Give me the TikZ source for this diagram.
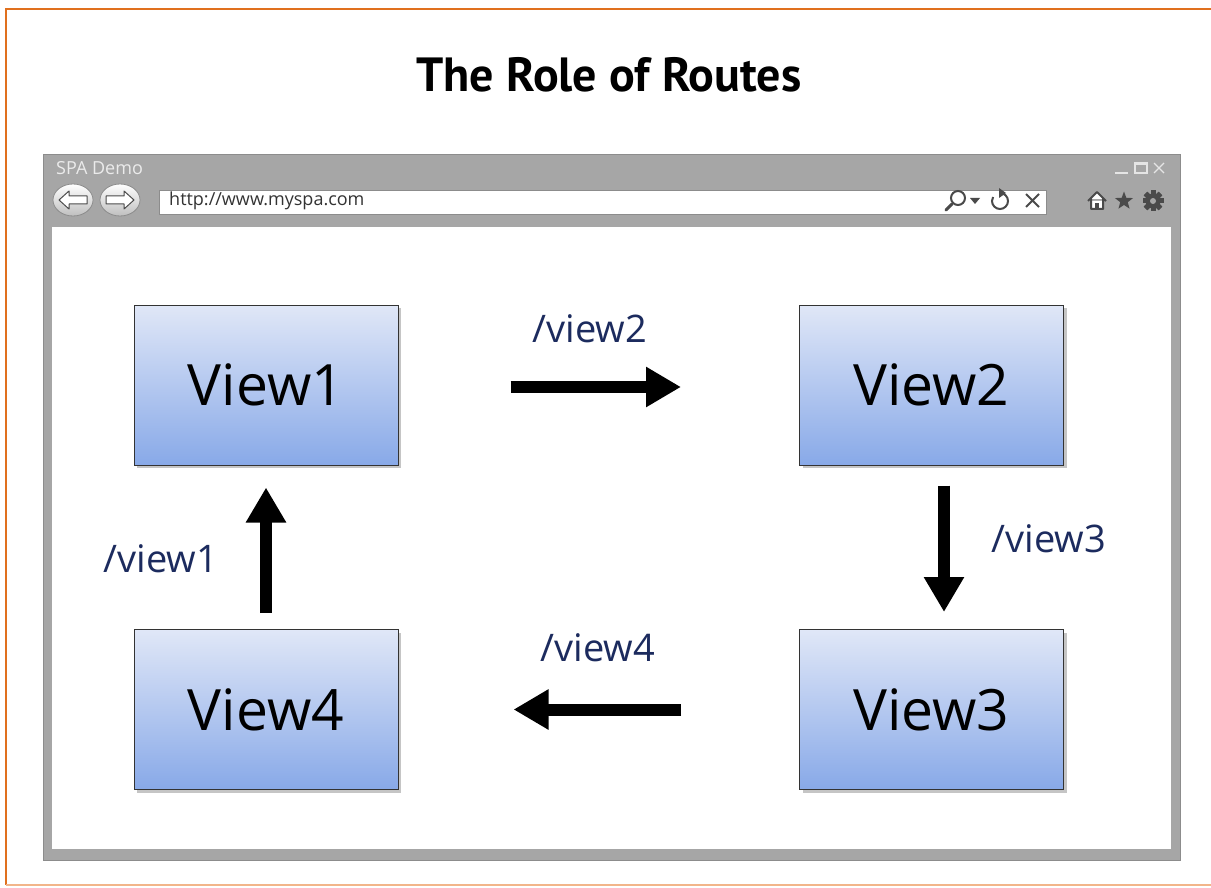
\documentclass[tikz,border=0pt]{standalone}
\usepackage{fontspec}
\setmainfont{Open Sans}
\newfontfamily\titlefont{PT Sans}
\usetikzlibrary{arrows.meta,shadows,shapes.geometric}
\definecolor{framebar}{HTML}{E0701E}
\definecolor{framelow}{HTML}{F2B58A}
\definecolor{chrome}{HTML}{A6A6A6}
\definecolor{chromeline}{HTML}{8C8C8C}
\definecolor{viewtop}{HTML}{E0E7F7}
\definecolor{viewbot}{HTML}{88A9E8}
\definecolor{routeblue}{HTML}{1C2B5E}
\definecolor{icongray}{HTML}{4A4A4A}
\tikzset{
  viewbox/.style={draw=black!80, line width=1pt, top color=viewtop, bottom color=viewbot,
    minimum width=264pt, minimum height=160pt, inner sep=0pt,
    font=\fontsize{57}{60}\selectfont,
    drop shadow={shadow xshift=3pt, shadow yshift=-3pt, opacity=0.45}},
  route/.style={line width=12pt, -{Triangle[length=35pt,width=38pt]}},
  routelabel/.style={text=routeblue, font=\fontsize{38}{42}\selectfont, inner sep=0pt},
  navbtn/.style={draw=chromeline, line width=0.8pt, top color=white, bottom color=black!25},
  navarrow/.style={draw=icongray, fill=white, line width=1pt, line join=round},
}
\begin{document}
\begin{tikzpicture}[x=1pt,y=-1pt]
  \useasboundingbox[fill=white] (0,0) rectangle (1211,888);

  % Frame
  \draw[framebar, line width=2pt] (1211,9) -- (6,9) -- (6,885);
  \draw[framelow, line width=2pt] (6,885) -- (1211,885);

  % Title
  \node[font=\titlefont\bfseries\fontsize{48}{52}\selectfont] (title) at (609,75) {The Role of Routes};

  % Browser window
  \draw[chromeline, fill=chrome, line width=1pt] (43,155) rectangle (1180,860);
  \draw[black!35, fill=white, line width=1pt] (51,226) rectangle (1171,849);
  \node[anchor=west, text=white!92!black, font=\fontsize{18}{20}\selectfont, inner sep=0pt] (apptitle) at (56,168) {SPA Demo};

  % Window controls
  \draw[white!90!black, line width=2pt] (1115,173) -- (1128,173);
  \draw[white!90!black, line width=1.5pt] (1135,163) rectangle (1147,173);
  \draw[white!90!black, line width=1.5pt] (1135,164.5) -- (1147,164.5);
  \draw[white!90!black, line width=1.2pt] (1154,163) -- (1164,173) (1154,173) -- (1164,163);

  % Back / forward
  \draw[navbtn] (73,200) ellipse (20pt and 16pt);
  \draw[navbtn] (120,200) ellipse (20pt and 16pt);
  \draw[navarrow] (59,200) -- (69,191) -- (69,196) -- (87,196) -- (87,204) -- (69,204) -- (69,209) -- cycle;
  \draw[navarrow] (134,200) -- (124,191) -- (124,196) -- (106,196) -- (106,204) -- (124,204) -- (124,209) -- cycle;

  % Address bar
  \draw[chromeline, fill=white, line width=0.8pt] (159,190) rectangle (1046,214);
  \node[anchor=west, text=black!80, font=\fontsize{18}{20}\selectfont, inner sep=0pt] (url) at (169,201) {http://www.myspa.com};

  % Search, refresh, stop
  \draw[icongray, line width=2pt] (958,198) circle (7pt);
  \draw[icongray, line width=3pt, line cap=round] (952,204) -- (946,210);
  \fill[icongray] (970,198) -- (980,198) -- (975,204) -- cycle;
  \draw[icongray, line width=2pt] (1000,193) arc (-90:210:8pt and -8pt);
  \fill[icongray] (999,188) -- (1006,193) -- (999,198) -- cycle;
  \draw[icongray, line width=2pt] (1026,194) -- (1039,207) (1026,207) -- (1039,194);

  % Home, favourites, settings
  \draw[icongray, fill=white, line width=2pt, line join=round] (1088,201) -- (1097,192) -- (1106,201) (1091,199) -- (1091,209) -- (1103,209) -- (1103,199);
  \fill[icongray] (1095,203) rectangle (1099,209);
  \node[star, star points=5, star point ratio=2.4, fill=icongray, minimum size=19pt, inner sep=0pt] (fav) at (1124,201) {};
  \foreach \a in {0,45,...,315}
    \fill[icongray, rotate around={\a:(1153,201)}] (1150.5,190.5) rectangle (1155.5,211.5);
  \fill[icongray] (1153,201) circle (7.5pt);
  \fill[chrome] (1153,201) circle (3pt);

  % Views
  \node[viewbox] (v1) at (266,385) {View1};
  \node[viewbox] (v2) at (931.5,385) {View2};
  \node[viewbox] (v3) at (931.5,709.5) {View3};
  \node[viewbox] (v4) at (266,709.5) {View4};

  % Routes
  \draw[route, shorten <=112pt, shorten >=118pt] ([yshift=-2pt]v1.east) -- ([yshift=-2pt]v2.west);
  \draw[route, shorten <=20pt, shorten >=17pt] ([xshift=12.5pt]v2.south) -- ([xshift=12.5pt]v3.north);
  \draw[route, shorten <=118pt, shorten >=115pt] (v3.west) -- (v4.east);
  \draw[route, shorten <=16pt, shorten >=22pt] (v4.north) -- (v1.south);

  \node[routelabel] (r2) at (590,329) {/view2};
  \node[routelabel] (r3) at (1049,539) {/view3};
  \node[routelabel] (r4) at (598,648) {/view4};
  \node[routelabel] (r1) at (161,559) {/view1};
\end{tikzpicture}
\end{document}
